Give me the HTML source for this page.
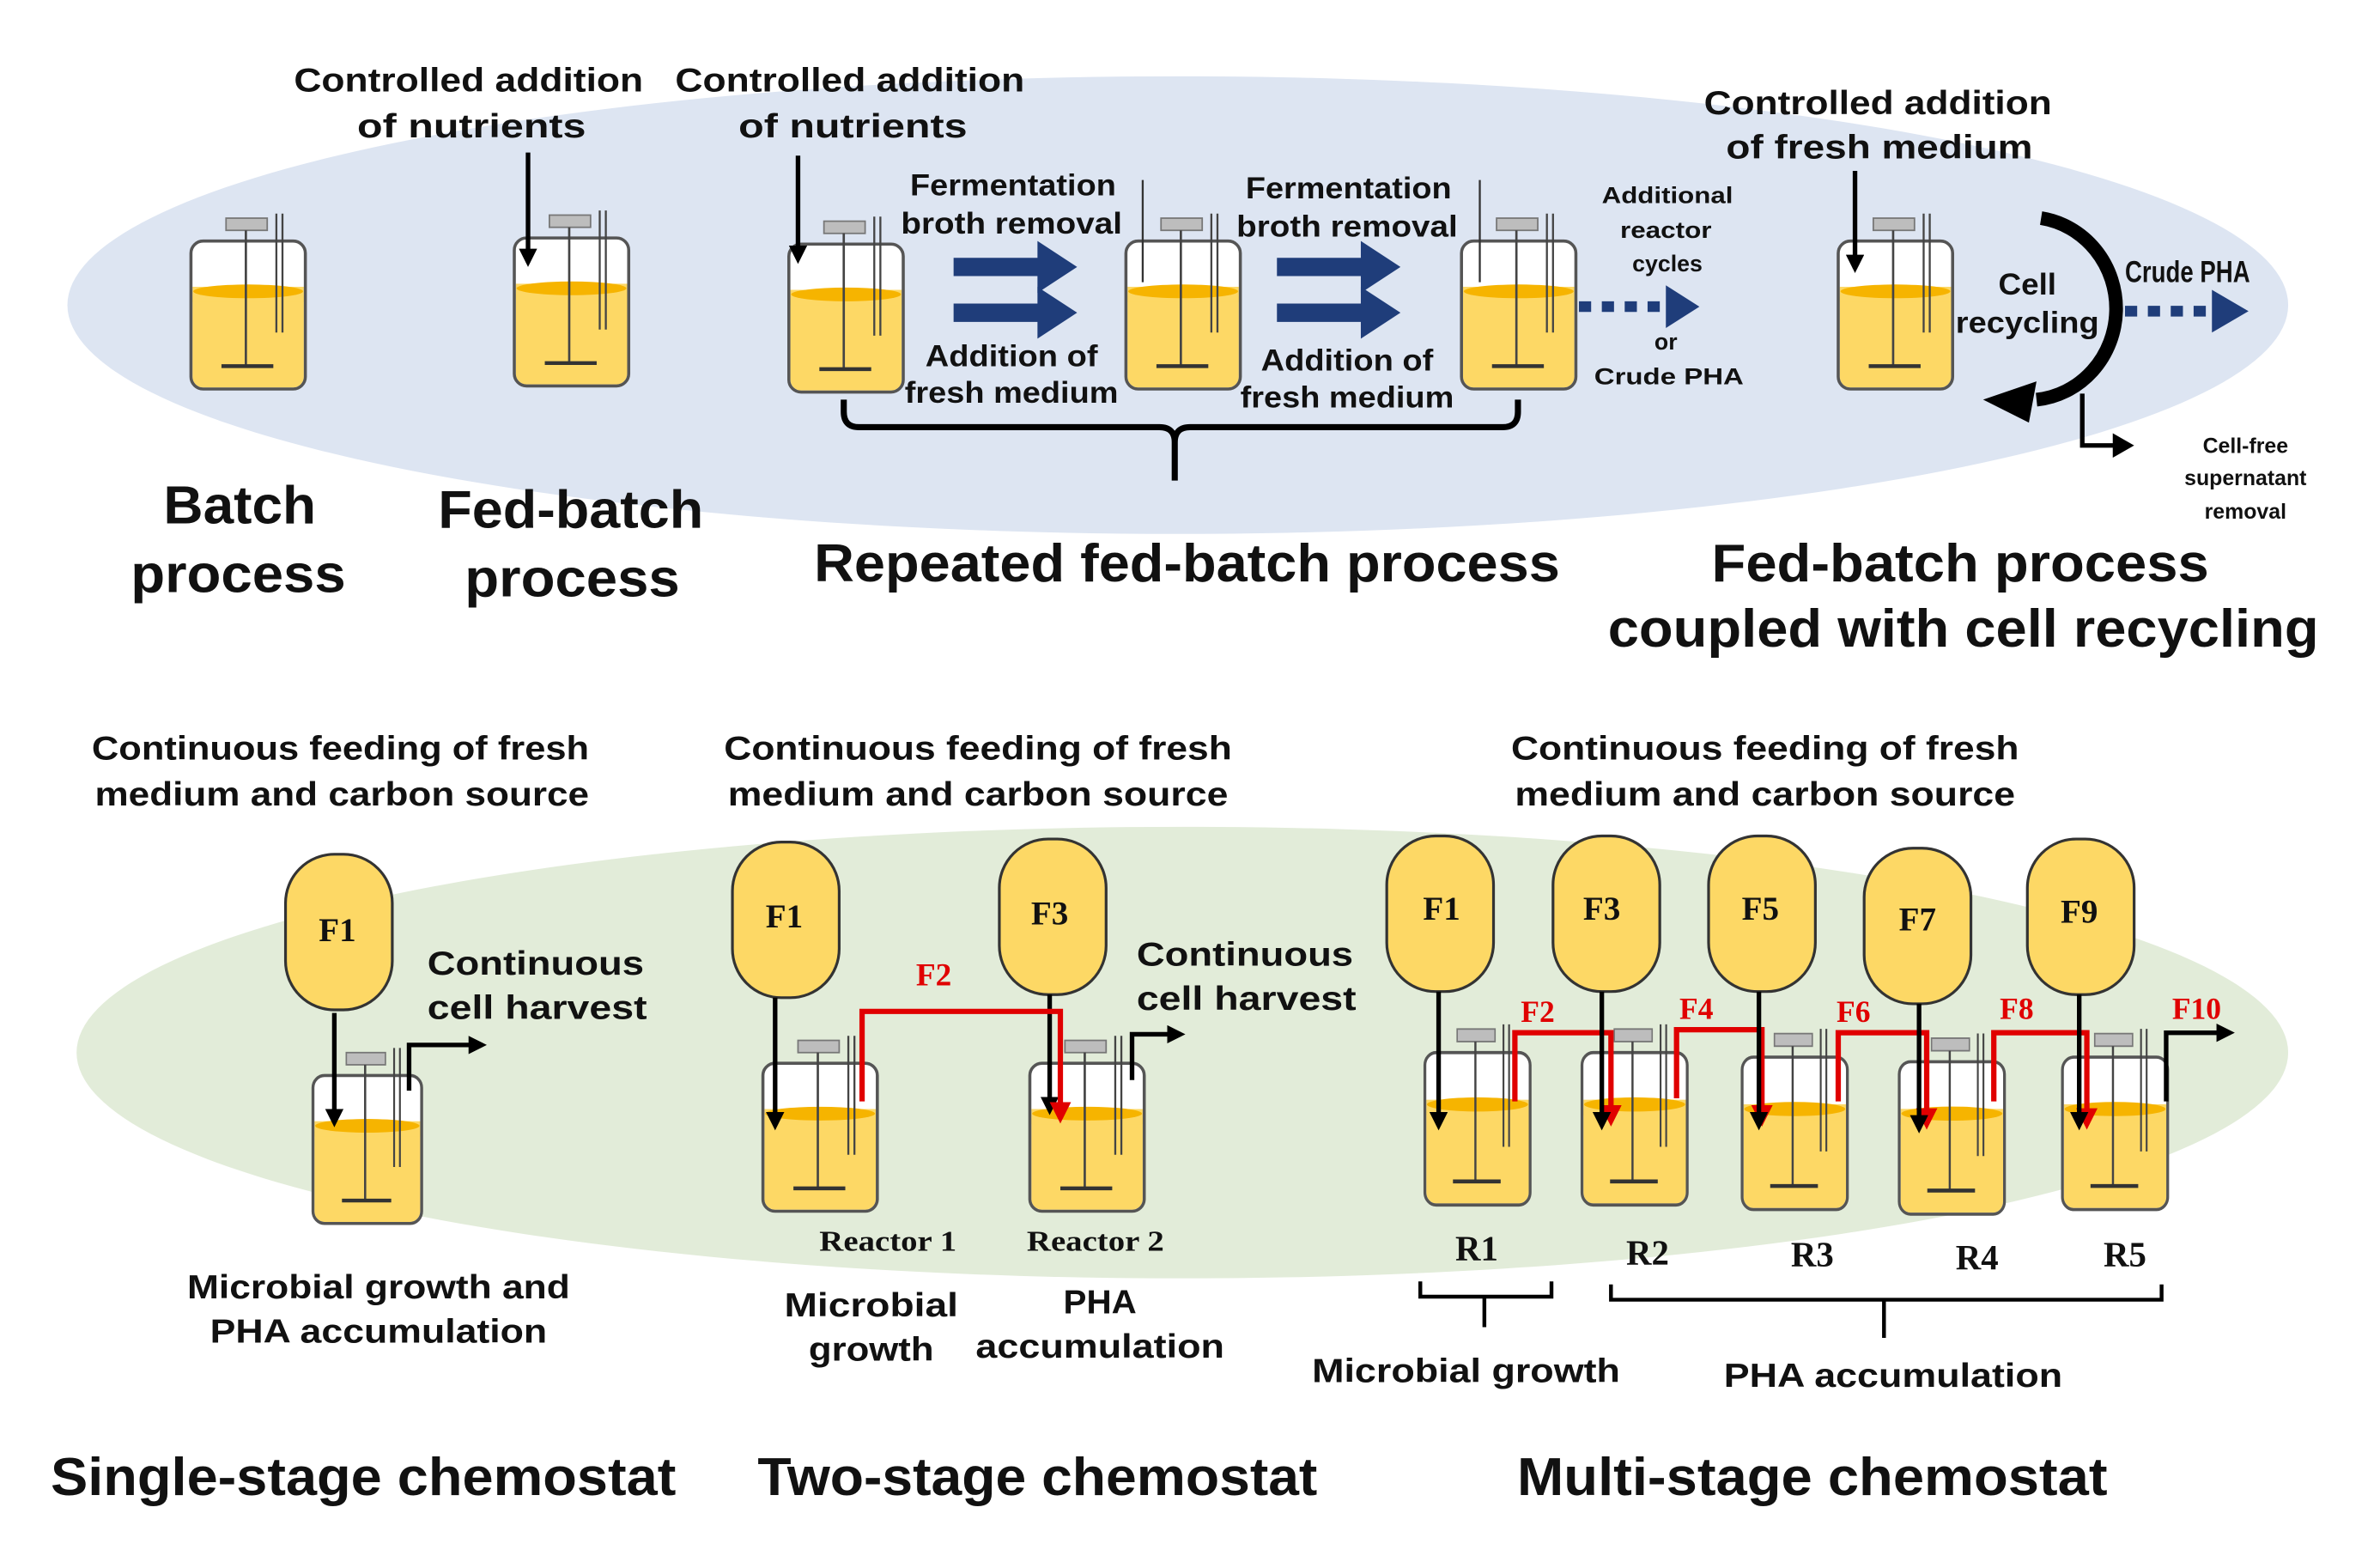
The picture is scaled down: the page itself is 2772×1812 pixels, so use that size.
<!DOCTYPE html>
<html><head><meta charset="utf-8"><style>
html,body{margin:0;padding:0;background:#fff}
svg{display:block}
text{font-family:"Liberation Sans",Arial,sans-serif;fill:#111}
.l{font-size:22px;font-weight:bold;text-anchor:middle}
.s{font-size:20px;font-weight:bold;text-anchor:middle}
.xs{font-size:15px;font-weight:bold;text-anchor:middle}
.t{font-size:35px;font-weight:bold;text-anchor:middle}
.sf{font-family:"Liberation Serif",serif;font-weight:bold;text-anchor:middle}
.red{fill:#e00000}
</style></head><body>
<svg width="2772" height="1812" viewBox="0 0 1560 1020" xmlns="http://www.w3.org/2000/svg">
<defs>
<marker id="ab" markerWidth="4" markerHeight="4" refX="3" refY="2" orient="auto" markerUnits="strokeWidth"><path d="M0,0 L4,2 L0,4 z" fill="#000"/></marker>
<marker id="ar" markerWidth="4" markerHeight="4" refX="3" refY="2" orient="auto" markerUnits="strokeWidth"><path d="M0,0 L4,2 L0,4 z" fill="#e00000"/></marker>
<g id="R">
<rect x="0" y="0" width="75" height="97" rx="8" fill="#fff"/>
<rect x="1" y="30" width="73" height="66" rx="7" fill="#fdd865"/>
<rect x="1" y="30" width="73" height="10" fill="#fdd865"/>
<ellipse cx="37.5" cy="33" rx="36" ry="4.5" fill="#f6b400"/>
<rect x="0" y="0" width="75" height="97" rx="8" fill="none" stroke="#555" stroke-width="2"/>
<rect x="23" y="-15" width="27" height="8" fill="#bdbdbd" stroke="#777" stroke-width="1"/>
<line x1="36" y1="-7" x2="36" y2="82" stroke="#444" stroke-width="1.5"/>
<line x1="20" y1="82" x2="54" y2="82" stroke="#333" stroke-width="2.5"/>
<line x1="56" y1="-18" x2="56" y2="60" stroke="#444" stroke-width="1.3"/>
<line x1="60" y1="-18" x2="60" y2="60" stroke="#444" stroke-width="1.3"/>
</g>
<g id="F"><rect x="0" y="0" width="70" height="102" rx="32" fill="#fdd865" stroke="#333" stroke-width="1.8"/></g>
</defs>

<ellipse cx="772" cy="200" rx="728" ry="150" fill="#dde5f2"/>
<ellipse cx="775" cy="690" rx="725" ry="148" fill="#e2ecd9"/>

<use href="#R" x="125" y="158"/>
<use href="#R" x="337" y="156"/>
<use href="#R" x="517" y="160"/>
<use href="#R" x="738" y="158"/>
<use href="#R" x="958" y="158"/>
<use href="#R" x="1205" y="158"/>

<text class="l" x="307" y="60" textLength="229" lengthAdjust="spacingAndGlyphs">Controlled addition</text>
<text class="l" x="309" y="90" textLength="150" lengthAdjust="spacingAndGlyphs">of nutrients</text>
<text class="l" x="557" y="60" textLength="229" lengthAdjust="spacingAndGlyphs">Controlled addition</text>
<text class="l" x="559" y="90" textLength="150" lengthAdjust="spacingAndGlyphs">of nutrients</text>
<line x1="346" y1="100" x2="346" y2="172" stroke="#000" stroke-width="3" marker-end="url(#ab)"/>
<line x1="523" y1="102" x2="523" y2="170" stroke="#000" stroke-width="3" marker-end="url(#ab)"/>

<text class="s" x="664" y="128" textLength="135" lengthAdjust="spacingAndGlyphs">Fermentation</text>
<text class="s" x="663" y="153" textLength="145" lengthAdjust="spacingAndGlyphs">broth removal</text>
<text class="s" x="663" y="240" textLength="113" lengthAdjust="spacingAndGlyphs">Addition of</text>
<text class="s" x="663" y="264" textLength="140" lengthAdjust="spacingAndGlyphs">fresh medium</text>
<text class="s" x="884" y="130" textLength="135" lengthAdjust="spacingAndGlyphs">Fermentation</text>
<text class="s" x="883" y="155" textLength="145" lengthAdjust="spacingAndGlyphs">broth removal</text>
<text class="s" x="883" y="243" textLength="113" lengthAdjust="spacingAndGlyphs">Addition of</text>
<text class="s" x="883" y="267" textLength="140" lengthAdjust="spacingAndGlyphs">fresh medium</text>
<g fill="#1f3d7a">
<path d="M625,169 h55 v-11 l26,17 l-26,17 v-11 h-55z"/>
<path d="M625,199 h55 v-11 l26,17 l-26,17 v-11 h-55z"/>
<path d="M837,169 h55 v-11 l26,17 l-26,17 v-11 h-55z"/>
<path d="M837,199 h55 v-11 l26,17 l-26,17 v-11 h-55z"/>
</g>
<line x1="749" y1="118" x2="749" y2="185" stroke="#333" stroke-width="1.3"/>
<line x1="970" y1="118" x2="970" y2="185" stroke="#333" stroke-width="1.3"/>
<path d="M553,262 v8 q0,10 10,10 h197 q10,0 10,10 v25 v-25 q0,-10 10,-10 h205 q10,0 10,-10 v-8" fill="none" stroke="#000" stroke-width="4"/>

<text class="xs" x="1093" y="133" textLength="86" lengthAdjust="spacingAndGlyphs">Additional</text>
<text class="xs" x="1092" y="156" textLength="60" lengthAdjust="spacingAndGlyphs">reactor</text>
<text class="xs" x="1093" y="178" textLength="46" lengthAdjust="spacingAndGlyphs">cycles</text>
<text class="xs" x="1092" y="229">or</text>
<text class="xs" x="1094" y="252" textLength="98" lengthAdjust="spacingAndGlyphs">Crude  PHA</text>
<line x1="1035" y1="201" x2="1092" y2="201" stroke="#1f3d7a" stroke-width="7" stroke-dasharray="8,7"/>
<path d="M1092,187 l22,14 l-22,14z" fill="#1f3d7a"/>

<text class="l" x="1231" y="75" textLength="228" lengthAdjust="spacingAndGlyphs">Controlled addition</text>
<text class="l" x="1232" y="104" textLength="201" lengthAdjust="spacingAndGlyphs">of fresh medium</text>
<line x1="1216" y1="112" x2="1216" y2="176" stroke="#000" stroke-width="3" marker-end="url(#ab)"/>
<text class="s" x="1329" y="193" textLength="38" lengthAdjust="spacingAndGlyphs">Cell</text>
<text class="s" x="1329" y="218" textLength="94" lengthAdjust="spacingAndGlyphs">recycling</text>
<path d="M1338,143 A58,60 0 0 1 1335,262" fill="none" stroke="#000" stroke-width="9"/>
<path d="M1335,250 l-35,12 l30,15z" fill="#000"/>
<path d="M1365,258 v34 h22" fill="none" stroke="#000" stroke-width="3"/>
<path d="M1385,284 l14,8 l-14,8z" fill="#000"/>
<text class="s" x="1434" y="185" textLength="82" lengthAdjust="spacingAndGlyphs">Crude PHA</text>
<line x1="1393" y1="204" x2="1452" y2="204" stroke="#1f3d7a" stroke-width="7" stroke-dasharray="8,7"/>
<path d="M1450,190 l24,14 l-24,14z" fill="#1f3d7a"/>
<text class="xs" x="1472" y="297" style="font-size:14px">Cell-free</text>
<text class="xs" x="1472" y="318" style="font-size:14px">supernatant</text>
<text class="xs" x="1472" y="340" style="font-size:14px">removal</text>

<text class="t" x="157" y="343" textLength="100" lengthAdjust="spacingAndGlyphs">Batch</text>
<text class="t" x="156" y="388" textLength="141" lengthAdjust="spacingAndGlyphs">process</text>
<text class="t" x="374" y="346" textLength="174" lengthAdjust="spacingAndGlyphs">Fed-batch</text>
<text class="t" x="375" y="391" textLength="141" lengthAdjust="spacingAndGlyphs">process</text>
<text class="t" x="778" y="381" textLength="489" lengthAdjust="spacingAndGlyphs">Repeated fed-batch process</text>
<text class="t" x="1285" y="381" textLength="326" lengthAdjust="spacingAndGlyphs">Fed-batch process</text>
<text class="t" x="1287" y="424" textLength="466" lengthAdjust="spacingAndGlyphs">coupled with cell recycling</text>

<text class="l" x="223" y="498" textLength="326" lengthAdjust="spacingAndGlyphs">Continuous feeding of fresh</text>
<text class="l" x="224" y="528" textLength="324" lengthAdjust="spacingAndGlyphs">medium and carbon source</text>
<text class="l" x="641" y="498" textLength="333" lengthAdjust="spacingAndGlyphs">Continuous feeding of fresh</text>
<text class="l" x="641" y="528" textLength="328" lengthAdjust="spacingAndGlyphs">medium and carbon source</text>
<text class="l" x="1157" y="498" textLength="333" lengthAdjust="spacingAndGlyphs">Continuous feeding of fresh</text>
<text class="l" x="1157" y="528" textLength="328" lengthAdjust="spacingAndGlyphs">medium and carbon source</text>

<use href="#F" x="187" y="560"/>
<text class="sf" x="221" y="617" font-size="22">F1</text>
<use href="#R" transform="translate(205,705) scale(0.95,1)"/>
<line x1="219" y1="664" x2="219" y2="736" stroke="#000" stroke-width="3" marker-end="url(#ab)"/>
<path d="M268,715 v-30 h48" fill="none" stroke="#000" stroke-width="3" marker-end="url(#ab)"/>
<text class="l" x="351" y="639" textLength="142" lengthAdjust="spacingAndGlyphs">Continuous</text>
<text class="l" x="352" y="668" textLength="144" lengthAdjust="spacingAndGlyphs">cell harvest</text>
<text class="l" x="248" y="851" textLength="251" lengthAdjust="spacingAndGlyphs">Microbial growth and</text>
<text class="l" x="248" y="880" textLength="221" lengthAdjust="spacingAndGlyphs">PHA accumulation</text>

<use href="#F" x="480" y="552"/>
<use href="#F" x="655" y="550"/>
<text class="sf" x="514" y="608" font-size="22">F1</text>
<text class="sf" x="688" y="606" font-size="22">F3</text>
<use href="#R" x="500" y="697"/>
<use href="#R" x="675" y="697"/>
<line x1="508" y1="654" x2="508" y2="738" stroke="#000" stroke-width="3" marker-end="url(#ab)"/>
<line x1="688" y1="652" x2="688" y2="728" stroke="#000" stroke-width="3" marker-end="url(#ab)"/>
<path d="M565,722 v-59 h130 v70" fill="none" stroke="#e00000" stroke-width="3.5" marker-end="url(#ar)"/>
<text class="sf red" x="612" y="646" font-size="21">F2</text>
<path d="M742,708 v-30 h32" fill="none" stroke="#000" stroke-width="3" marker-end="url(#ab)"/>
<text class="l" x="816" y="633" textLength="142" lengthAdjust="spacingAndGlyphs">Continuous</text>
<text class="l" x="817" y="662" textLength="144" lengthAdjust="spacingAndGlyphs">cell harvest</text>
<text class="sf" x="582" y="820" font-size="19" textLength="90" lengthAdjust="spacingAndGlyphs">Reactor 1</text>
<text class="sf" x="718" y="820" font-size="19" textLength="90" lengthAdjust="spacingAndGlyphs">Reactor 2</text>
<text class="l" x="571" y="863" textLength="114" lengthAdjust="spacingAndGlyphs">Microbial</text>
<text class="l" x="571" y="892" textLength="82" lengthAdjust="spacingAndGlyphs">growth</text>
<text class="l" x="721" y="861" textLength="48" lengthAdjust="spacingAndGlyphs">PHA</text>
<text class="l" x="721" y="890" textLength="163" lengthAdjust="spacingAndGlyphs">accumulation</text>

<use href="#F" x="909" y="548"/>
<use href="#F" x="1018" y="548"/>
<use href="#F" x="1120" y="548"/>
<use href="#F" x="1222" y="556"/>
<use href="#F" x="1329" y="550"/>
<text class="sf" x="945" y="603" font-size="22">F1</text>
<text class="sf" x="1050" y="603" font-size="22">F3</text>
<text class="sf" x="1154" y="603" font-size="22">F5</text>
<text class="sf" x="1257" y="610" font-size="22">F7</text>
<text class="sf" x="1363" y="605" font-size="22">F9</text>
<use href="#R" transform="translate(934,690) scale(0.92,1.03)"/>
<use href="#R" transform="translate(1037,690) scale(0.92,1.03)"/>
<use href="#R" transform="translate(1142,693) scale(0.92,1.03)"/>
<use href="#R" transform="translate(1245,696) scale(0.92,1.03)"/>
<use href="#R" transform="translate(1352,693) scale(0.92,1.03)"/>
<g stroke="#e00000" stroke-width="3.5" fill="none" marker-end="url(#ar)">
<path d="M993,722 v-45 h63 v58"/>
<path d="M1099,720 v-45 h56 v60"/>
<path d="M1205,722 v-45 h58 v60"/>
<path d="M1307,722 v-45 h61 v60"/>
</g>
<g stroke="#000" stroke-width="3" marker-end="url(#ab)">
<line x1="943" y1="650" x2="943" y2="738"/>
<line x1="1050" y1="650" x2="1050" y2="738"/>
<line x1="1153" y1="650" x2="1153" y2="738"/>
<line x1="1258" y1="658" x2="1258" y2="740"/>
<line x1="1363" y1="652" x2="1363" y2="738"/>
</g>
<path d="M1420,722 v-45 h42" fill="none" stroke="#000" stroke-width="3" marker-end="url(#ab)"/>
<text class="sf red" x="1008" y="670" font-size="20">F2</text>
<text class="sf red" x="1112" y="668" font-size="20">F4</text>
<text class="sf red" x="1215" y="670" font-size="20">F6</text>
<text class="sf red" x="1322" y="668" font-size="20">F8</text>
<text class="sf red" x="1440" y="668" font-size="20">F10</text>
<text class="sf" x="968" y="826" font-size="23">R1</text>
<text class="sf" x="1080" y="829" font-size="23">R2</text>
<text class="sf" x="1188" y="830" font-size="23">R3</text>
<text class="sf" x="1296" y="832" font-size="23">R4</text>
<text class="sf" x="1393" y="830" font-size="23">R5</text>
<path d="M931,840 v10 h42 v20 v-20 h44 v-10" fill="none" stroke="#000" stroke-width="2.5"/>
<path d="M1056,842 v10 h179 v25 v-25 h182 v-10" fill="none" stroke="#000" stroke-width="2.5"/>
<text class="l" x="961" y="906" textLength="202" lengthAdjust="spacingAndGlyphs">Microbial growth</text>
<text class="l" x="1241" y="909" textLength="222" lengthAdjust="spacingAndGlyphs">PHA accumulation</text>

<text class="t" x="238" y="980" textLength="410" lengthAdjust="spacingAndGlyphs">Single-stage chemostat</text>
<text class="t" x="680" y="980" textLength="367" lengthAdjust="spacingAndGlyphs">Two-stage chemostat</text>
<text class="t" x="1188" y="980" textLength="387" lengthAdjust="spacingAndGlyphs">Multi-stage chemostat</text>
</svg>
</body></html>
